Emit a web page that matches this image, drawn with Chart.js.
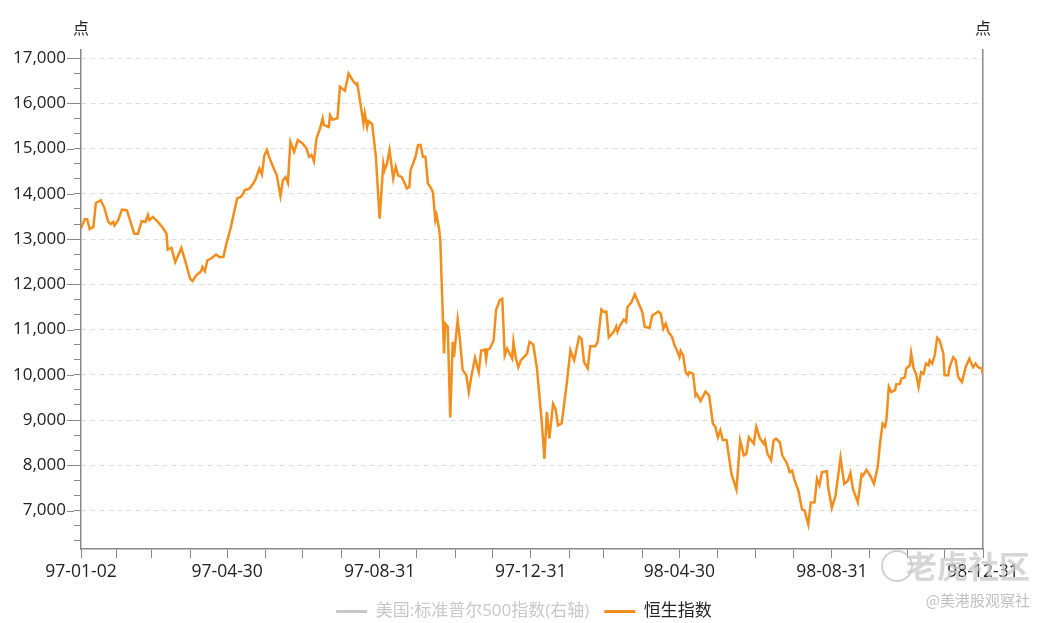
<!DOCTYPE html>
<html>
<head>
<meta charset="utf-8">
<script src="https://cdn.jsdelivr.net/npm/chart.js"></script>
<style>
  html, body { margin: 0; padding: 0; background: #fff; }
  #wrap { width: 1048px; height: 623px; }
</style>
</head>
<body>
<div id="wrap"><canvas id="chart" width="1048" height="623"></canvas></div>
<script>
// 恒生指数 (dates as YY-MM-DD)
const hsiDates = [
  '97-01-02','97-01-05','97-01-07','97-01-09','97-01-12','97-01-14','97-01-18','97-01-21','97-01-24','97-01-26',
  '97-01-28','97-01-29','97-02-01','97-02-04','97-02-08','97-02-11','97-02-14','97-02-17','97-02-20','97-02-23',
  '97-02-25','97-02-26','97-03-01','97-03-05','97-03-09','97-03-12','97-03-13','97-03-16','97-03-19','97-03-24',
  '97-03-27','97-03-31','97-04-02','97-04-05','97-04-09','97-04-10','97-04-12','97-04-14','97-04-17','97-04-21',
  '97-04-24','97-04-27','97-04-29','97-05-03','97-05-08','97-05-11','97-05-13','97-05-14','97-05-18','97-05-21',
  '97-05-23','97-05-26','97-05-28','97-05-30','97-06-01','97-06-03','97-06-06','97-06-09','97-06-12','97-06-14',
  '97-06-16','97-06-18','97-06-20','97-06-23','97-06-26','97-06-30','97-07-03','97-07-05','97-07-07','97-07-09',
  '97-07-11','97-07-14','97-07-16','97-07-17','97-07-21','97-07-22','97-07-24','97-07-28','97-07-30','97-08-03',
  '97-08-06','97-08-10','97-08-12','97-08-13','97-08-18','97-08-19','97-08-21','97-08-22','97-08-25','97-08-28',
  '97-08-31','97-09-03','97-09-04','97-09-06','97-09-08','97-09-11','97-09-13','97-09-15','97-09-18','97-09-22',
  '97-09-24','97-09-25','97-09-29','97-10-01','97-10-03','97-10-05','97-10-07','97-10-09','97-10-11','97-10-13',
  '97-10-15','97-10-16','97-10-18','97-10-19','97-10-22','97-10-23','97-10-25','97-10-27','97-10-29','97-10-30',
  '97-11-02','97-11-04','97-11-06','97-11-09','97-11-11','97-11-13','97-11-16','97-11-19','97-11-21','97-11-24',
  '97-11-25','97-11-26','97-11-28','97-12-01','97-12-03','97-12-06','97-12-08','97-12-10','97-12-12','97-12-16',
  '97-12-17','97-12-19','97-12-21','97-12-23','97-12-28','97-12-30','98-01-02','98-01-05','98-01-09','98-01-11',
  '98-01-13','98-01-15','98-01-18','98-01-20','98-01-22','98-01-25','98-01-29','98-02-01','98-02-04','98-02-08',
  '98-02-10','98-02-12','98-02-15','98-02-17','98-02-21','98-02-23','98-02-26','98-02-28','98-03-02','98-03-04',
  '98-03-08','98-03-10','98-03-11','98-03-13','98-03-16','98-03-18','98-03-19','98-03-22','98-03-25','98-03-27',
  '98-03-31','98-04-02','98-04-06','98-04-08','98-04-13','98-04-15','98-04-17','98-04-19','98-04-21','98-04-24',
  '98-04-26','98-04-28','98-04-30','98-05-01','98-05-03','98-05-05','98-05-07','98-05-08','98-05-11','98-05-13',
  '98-05-14','98-05-17','98-05-21','98-05-24','98-05-27','98-05-29','98-05-31','98-06-02','98-06-04','98-06-07',
  '98-06-11','98-06-15','98-06-18','98-06-21','98-06-23','98-06-25','98-06-29','98-07-01','98-07-04','98-07-07',
  '98-07-08','98-07-10','98-07-13','98-07-15','98-07-17','98-07-20','98-07-22','98-07-26','98-07-28','98-07-30',
  '98-08-01','98-08-04','98-08-07','98-08-09','98-08-12','98-08-14','98-08-17','98-08-19','98-08-21','98-08-23',
  '98-08-27','98-08-28','98-08-31','98-09-03','98-09-07','98-09-10','98-09-13','98-09-15','98-09-17','98-09-21',
  '98-09-24','98-09-25','98-09-28','98-10-01','98-10-04','98-10-07','98-10-09','98-10-11','98-10-13','98-10-14',
  '98-10-16','98-10-18','98-10-21','98-10-22','98-10-25','98-10-26','98-10-29','98-10-30','98-11-02','98-11-03',
  '98-11-05','98-11-07','98-11-09','98-11-11','98-11-13','98-11-15','98-11-17','98-11-18','98-11-20','98-11-22',
  '98-11-24','98-11-26','98-11-29','98-11-30','98-12-03','98-12-04','98-12-07','98-12-09','98-12-11','98-12-14',
  '98-12-17','98-12-20','98-12-23','98-12-25','98-12-27','98-12-30','98-12-31'
];
const hsiValues = [
  13240,13440,13440,13220,13270,13800,13860,13680,13380,13330,
  13380,13300,13420,13650,13640,13380,13120,13120,13400,13380,
  13530,13420,13490,13380,13250,13120,12770,12810,12490,12800,
  12530,12130,12070,12200,12290,12380,12290,12530,12570,12660,
  12600,12610,12860,13270,13900,13930,14010,14080,14120,14230,
  14330,14560,14430,14850,14970,14800,14600,14410,13950,14300,
  14370,14240,15150,14930,15190,15110,15000,14820,14860,14720,
  15220,15450,15670,15520,15480,15740,15640,15670,16370,16280,
  16660,16480,16420,16440,15560,15780,15480,15610,15540,14820,
  13450,14670,14520,14670,14970,14340,14600,14410,14370,14120,
  14150,14520,14820,15080,15080,14820,14820,14230,14150,14040,
  13420,13530,13230,12970,10470,11130,11060,9060,10730,10390,
  11220,10730,10110,9990,9620,9950,10380,10060,10540,10560,
  10350,10560,10580,10760,11430,11650,11680,10430,10580,10360,
  10730,10360,10170,10320,10470,10730,10670,10140,8920,8140,
  9180,8590,9360,9250,8880,8930,9800,10540,10320,10840,
  10800,10280,10140,10630,10630,10730,11440,11390,11400,10830,
  10950,11070,10950,11090,11220,11170,11500,11590,11780,11650,
  11390,11060,11040,11310,11400,11350,11020,11130,10950,10840,
  10650,10540,10390,10530,10430,10060,9990,10060,10020,9540,
  9580,9420,9630,9540,8920,8850,8620,8770,8560,8560,
  7810,7460,8550,8220,8250,8620,8480,8850,8590,8480,
  8550,8260,8110,8550,8590,8510,8220,8030,7850,7880,
  7660,7440,7020,7000,6690,7180,7180,7700,7560,7850,
  7870,7520,7060,7330,8170,7590,7660,7830,7480,7180,
  7800,7770,7900,7770,7590,7960,8510,8920,8850,8990,
  9740,9620,9660,9790,9800,9910,9950,10140,10210,10480,
  10140,10020,9730,10060,10020,10250,10210,10320,10250,10430,
  10820,10760,10470,9990,9990,10170,10390,10320,9950,9840,
  10170,10360,10170,10250,10170,10140,10010
];
// S&P 500 series is switched off in the legend, nothing of it is drawn
const spxValues = [];

const seriesNames = ['美国:标准普尔500指数(右轴)', '恒生指数'];
const xTickLabels = ['97-01-02', '97-04-30', '97-08-31', '97-12-31', '98-04-30', '98-08-31', '98-12-31'];
const yTickLabels = [7000, 8000, 9000, 10000, 11000, 12000, 13000, 14000, 15000, 16000, 17000];
const unitLabel = '点';

const DAY = 86400000;
const startUTC = Date.UTC(1997, 0, 2);
function toDay(s) {
  const [yy, mm, dd] = s.split('-').map(Number);
  return Math.round((Date.UTC(1900 + yy, mm - 1, dd) - startUTC) / DAY);
}
function dayToLabel(d) {
  const t = new Date(startUTC + d * DAY);
  const p = n => String(n).padStart(2, '0');
  return p(t.getUTCFullYear() % 100) + '-' + p(t.getUTCMonth() + 1) + '-' + p(t.getUTCDate());
}

const lastDay = toDay(hsiDates[hsiDates.length - 1]);
// one mark per month end, plus the first day
const xTickDays = [0];
for (let y = 1997; y <= 1998; y++) {
  for (let m = 0; m < 12; m++) {
    xTickDays.push(Math.round((Date.UTC(y, m + 1, 0) - startUTC) / DAY));
  }
}

// y marks: labelled every 1000, small marks every third of that
const yStep = yTickLabels[1] - yTickLabels[0];
const yMin = 6150, yMax = 17180;
const yTickValues = [];
for (let k = Math.ceil(yMin * 3 / yStep); k * yStep / 3 <= yMax; k++) yTickValues.push(k * yStep / 3);
const isMajor = v => yTickLabels.some(t => Math.abs(t - v) < 1);

const hsiPoints = hsiDates.map((d, i) => ({ x: toDay(d), y: hsiValues[i] }));

const FONT = '"Open Sans", "Noto Sans CJK SC", sans-serif';
Chart.defaults.font.family = FONT;
Chart.defaults.color = '#222';

const extras = {
  id: 'extras',
  afterDraw(chart) {
    const { ctx, chartArea, scales } = chart;
    const ys = scales.y;
    ctx.save();
    // labelled y ticks get a longer mark
    ctx.strokeStyle = '#888';
    ctx.lineWidth = 1;
    ys.ticks.forEach(t => {
      if (!isMajor(t.value)) return;
      const py = Math.round(ys.getPixelForValue(t.value)) + 0.5;
      ctx.beginPath();
      ctx.moveTo(chartArea.left - 14, py);
      ctx.lineTo(chartArea.left - 7, py);
      ctx.stroke();
    });
    // unit captions on both axes
    ctx.fillStyle = '#222';
    ctx.font = '16px "Noto Sans CJK SC", sans-serif';
    ctx.textAlign = 'center';
    ctx.textBaseline = 'middle';
    ctx.fillText(unitLabel, chartArea.left, chartArea.top - 22);
    ctx.fillText(unitLabel, chartArea.right, chartArea.top - 22);
    // watermark
    const W = chart.width;
    ctx.strokeStyle = 'rgba(190,190,190,0.7)';
    ctx.lineWidth = 2;
    ctx.beginPath();
    ctx.arc(W - 151, chartArea.bottom + 17, 15, 0, Math.PI * 2);
    ctx.stroke();
    ctx.textAlign = 'right';
    ctx.fillStyle = 'rgba(200,200,200,0.75)';
    ctx.font = 'bold 31px "Noto Sans CJK SC", sans-serif';
    ctx.fillText('老虎社区', W - 18, chartArea.bottom + 17);
    ctx.fillStyle = 'rgba(185,185,185,0.9)';
    ctx.font = '15px "Noto Sans CJK SC", sans-serif';
    ctx.fillText('@美港股观察社', W - 18, chartArea.bottom + 51);
    ctx.restore();
  }
};

new Chart(document.getElementById('chart'), {
  type: 'line',
  data: {
    datasets: [
      {
        label: seriesNames[0],
        data: spxValues,
        yAxisID: 'y1',
        hidden: true,
        borderColor: '#c8c8c8',
        borderWidth: 3,
        pointRadius: 0
      },
      {
        label: seriesNames[1],
        data: hsiPoints,
        yAxisID: 'y',
        borderColor: '#F28E1E',
        backgroundColor: '#F28E1E',
        borderWidth: 2.5,
        pointRadius: 0,
        tension: 0,
        fill: false
      }
    ]
  },
  options: {
    responsive: false,
    animation: false,
    layout: { padding: { top: 50, left: 0, right: 0, bottom: -7 } },
    plugins: {
      tooltip: { enabled: false },
      legend: {
        position: 'bottom',
        labels: {
          usePointStyle: true,
          pointStyle: 'line',
          pointStyleWidth: 31,
          padding: 15,
          font: { size: 17 },
          generateLabels(chart) {
            const items = Chart.defaults.plugins.legend.labels.generateLabels(chart);
            return items.map(it => {
              const off = !chart.isDatasetVisible(it.datasetIndex);
              return Object.assign(it, {
                hidden: false,
                lineWidth: 3,
                fontColor: off ? '#c8c8c8' : '#222',
                strokeStyle: off ? '#c8c8c8' : it.strokeStyle
              });
            });
          }
        }
      }
    },
    scales: {
      x: {
        type: 'linear',
        min: 0,
        max: lastDay,
        afterBuildTicks: s => { s.ticks = xTickDays.map(v => ({ value: v })); },
        afterFit: s => { s.height = 39; },
        ticks: {
          autoSkip: false,
          maxRotation: 0,
          minRotation: 0,
          padding: 4,
          color: '#222',
          font: { size: 17.5 },
          callback: v => {
            const lab = dayToLabel(v);
            return xTickLabels.includes(lab) ? lab : '';
          }
        },
        grid: { drawOnChartArea: false, drawTicks: true, tickLength: 9, color: '#888' },
        border: { display: true, color: '#888', width: 1.5 }
      },
      y: {
        type: 'linear',
        position: 'left',
        min: yMin,
        max: yMax,
        afterBuildTicks: s => { s.ticks = yTickValues.map(v => ({ value: v })); },
        afterFit: s => { s.width = 81; },
        ticks: {
          autoSkip: false,
          padding: 8,
          color: '#222',
          font: { size: 17 },
          callback: v => isMajor(v) ? Math.round(v).toLocaleString('en-US') : ''
        },
        grid: {
          drawTicks: true,
          tickLength: 7,
          tickColor: '#888',
          color: c => (c.tick && isMajor(c.tick.value)) ? '#dddddd' : 'rgba(0,0,0,0)',
          lineWidth: 1
        },
        border: { display: true, color: '#888', width: 1.5, dash: [5, 4] }
      },
      y1: {
        type: 'linear',
        position: 'right',
        afterFit: s => { s.width = 65; },
        ticks: { display: false },
        grid: { display: false, drawTicks: false },
        border: { display: true, color: '#888', width: 1.5 }
      }
    }
  },
  plugins: [extras]
});
</script>
</body>
</html>
